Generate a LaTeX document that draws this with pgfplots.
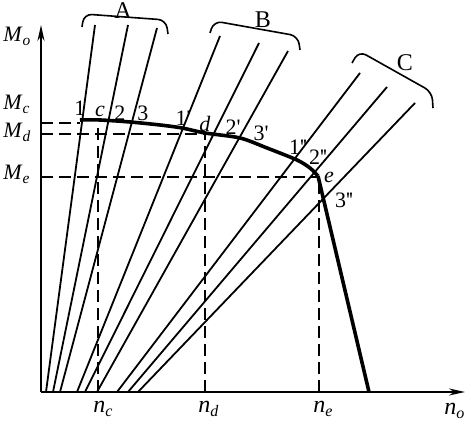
\documentclass[border=0pt]{standalone}
\usepackage{pgfplots}
\pgfplotsset{compat=1.18}
\usetikzlibrary{arrows.meta}
\usepackage{fontspec}
\setmainfont{Liberation Serif}

\newcommand{\sym}[2]{\textit{#1}\textsubscript{\textit{#2}}}
\newcommand{\pr}{\textquotesingle}
\newcommand{\dpr}{\textquotesingle\kern-0.5pt\textquotesingle}
\tikzset{
  lbl/.style={font=\fontsize{11}{13}\selectfont, inner sep=0pt},
  nlbl/.style={font=\fontsize{12}{14}\selectfont, inner sep=0pt, anchor=base west},
  char/.style={line width=0.9pt},
  bound/.style={line width=1.8pt, line join=round},
  guide/.style={line width=0.8pt, dash pattern=on 6pt off 3pt},
}

\begin{document}
\begin{tikzpicture}
\begin{axis}[
  x=0.5pt, y=0.5pt,
  xmin=0, xmax=424, ymin=0, ymax=367,
  axis lines=left,
  axis line style={line width=1pt, -{Stealth[length=8pt,width=3.5pt]}},
  ticks=none,
  clip=false,
]
% group A
\addplot[char] coordinates {(5,0) (54,367)};
\addplot[char] coordinates {(12,0) (87,367)};
\addplot[char] coordinates {(19,0) (116,364)};
% group B
\addplot[char] coordinates {(36,0) (179,356)};
\addplot[char] coordinates {(44,0) (218,349)};
\addplot[char] coordinates {(56,0) (247,341)};
% group C
\addplot[char] coordinates {(76,0) (319,319)};
\addplot[char] coordinates {(87,0) (346,305)};
\addplot[char] coordinates {(97,0) (374,289)};

% boundary curve
\addplot[bound, smooth, tension=0.5] coordinates {
  (39,272) (59,272) (89,270) (119,267) (141,264) (164,259)
  (199,254) (226,244) (256,232) (269,224) (277,216)
};
\addplot[bound] coordinates {(277,216) (328,0)};

% guide lines
\addplot[guide] coordinates {(0,269) (39,269)};
\addplot[guide] coordinates {(0,258) (164,258)};
\addplot[guide] coordinates {(0,215) (277,215)};
\addplot[guide] coordinates {(57,0) (57,269)};
\addplot[guide] coordinates {(164,0) (164,258)};
\addplot[guide] coordinates {(278,0) (278,215)};

% braces
\draw[line width=0.8pt, rounded corners=4pt]
  (axis cs:41,365) -- (axis cs:43,378) -- (axis cs:125,372) -- (axis cs:127,358);
\draw[line width=0.8pt, rounded corners=4pt]
  (axis cs:169,359) -- (axis cs:173,371) -- (axis cs:257,356) -- (axis cs:259,342);
\draw[line width=0.8pt, rounded corners=4pt]
  (axis cs:311,329) -- (axis cs:318,341) -- (axis cs:391,300) -- (axis cs:392,284);
\node[lbl, font=\fontsize{12}{14}\selectfont] at (axis cs:82,381) {A};
\node[lbl, font=\fontsize{12}{14}\selectfont] at (axis cs:222,372) {B};
\node[lbl, font=\fontsize{12}{14}\selectfont] at (axis cs:364,329) {C};

% point labels
\node[lbl] at (axis cs:39,284) {1};
\node[lbl] at (axis cs:59,281) {\textit{c}};
\node[lbl] at (axis cs:79,279) {2};
\node[lbl] at (axis cs:102,279) {3};
\node[lbl] at (axis cs:142,274) {1\pr};
\node[lbl] at (axis cs:164,268) {\textit{d}};
\node[lbl] at (axis cs:192,265) {2\pr};
\node[lbl] at (axis cs:220,259) {3\pr};
\node[lbl] at (axis cs:257,245) {1\dpr};
\node[lbl] at (axis cs:277,235) {2\dpr};
\node[lbl] at (axis cs:288,215) {\textit{e}};
\node[lbl] at (axis cs:303,192) {3\dpr};

% axis labels
\node[lbl, anchor=base west] at (axis cs:-38,350) {\sym{M}{o}};
\node[lbl, anchor=base west] at (axis cs:-38,282) {\sym{M}{c}};
\node[lbl, anchor=base west] at (axis cs:-38,254) {\sym{M}{d}};
\node[lbl, anchor=base west] at (axis cs:-38,212) {\sym{M}{e}};
\node[nlbl] at (axis cs:52,-21) {\sym{n}{c}};
\node[nlbl] at (axis cs:157,-21) {\sym{n}{d}};
\node[nlbl] at (axis cs:272,-21) {\sym{n}{e}};
\node[nlbl] at (axis cs:403,-23) {\sym{n}{o}};

\coordinate (bl) at (axis cs:-41,-29);
\coordinate (tr) at (axis cs:426,392);
\end{axis}
\pgfresetboundingbox
\path (bl) rectangle (tr);
\end{tikzpicture}
\end{document}
